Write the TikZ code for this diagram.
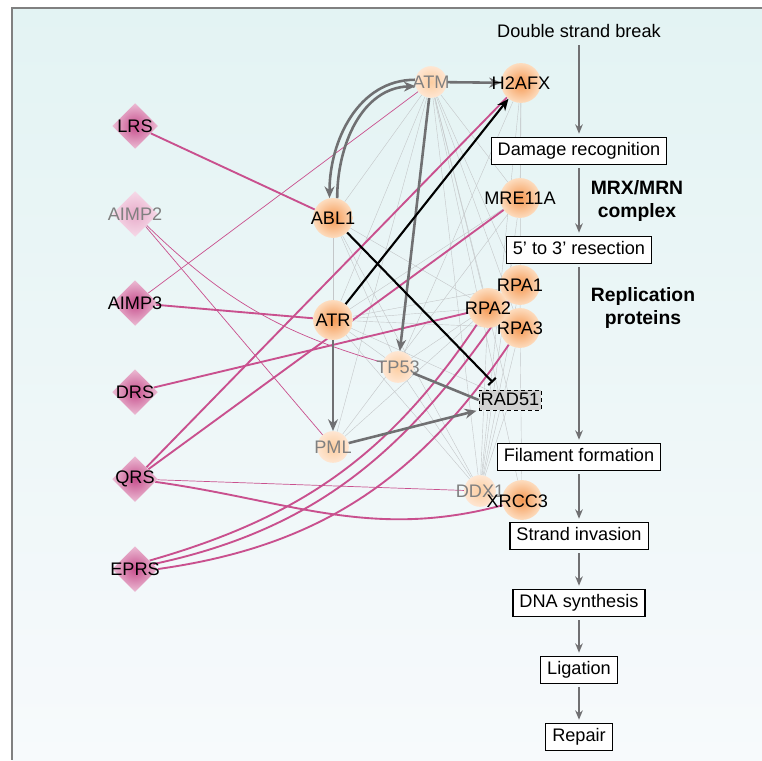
\documentclass[tikz,border=0pt]{standalone}
\usepackage{fontspec}
\setmainfont{Liberation Sans}
\usetikzlibrary{arrows.meta,shapes.geometric}
\definecolor{bgtop}{RGB}{227,243,243}
\definecolor{bgbot}{RGB}{247,250,252}
\definecolor{geneorange}{RGB}{245,152,82}
\definecolor{genepale}{RGB}{253,220,190}
\definecolor{lightorange}{RGB}{252,205,160}
\definecolor{lightpale}{RGB}{254,230,210}
\definecolor{synthdark}{RGB}{198,78,140}
\definecolor{synthpale}{RGB}{236,188,212}
\definecolor{aimplight}{RGB}{232,172,202}
\definecolor{aimppale}{RGB}{246,218,232}
\definecolor{edgepink}{RGB}{201,80,142}
\definecolor{faintgray}{RGB}{196,199,201}
\definecolor{netgray}{RGB}{112,112,114}
\definecolor{labelgray}{RGB}{128,128,128}
\pgfdeclarelayer{back}
\pgfdeclarelayer{links}
\pgfsetlayers{back,links,main}

\begin{document}
\begin{tikzpicture}[x=0.03cm, y=-0.03cm,
  gtext/.style={font=\fontsize{15.5}{18}\selectfont},
  boldlab/.style={font=\fontsize{16.5}{19}\selectfont\bfseries, align=center},
  gene/.style={circle, minimum size=34pt, inner sep=0pt, shading=radial,
    inner color=geneorange, outer color=genepale},
  lgene/.style={circle, minimum size=27pt, inner sep=0pt, shading=radial,
    inner color=lightorange, outer color=lightpale},
  synth/.style={diamond, aspect=1, minimum size=39pt, inner sep=0pt, shading=radial,
    inner color=synthdark, outer color=synthpale},
  stepbox/.style={draw, line width=0.9pt, fill=white, gtext, inner xsep=5.5pt,
    inner ysep=3.6pt, text height=11.8pt, text depth=3.6pt},
  flow/.style={draw=netgray, line width=1.3pt, -{Stealth[length=8pt,width=6.5pt]},
    shorten <=3pt, shorten >=3pt},
  faint/.style={draw=faintgray, line width=0.35pt},
  pinkthick/.style={draw=edgepink, line width=1.6pt},
  pinkthin/.style={draw=edgepink, line width=0.6pt},
  netarrow/.style={draw=netgray, line width=2.2pt, -{Stealth[length=10pt,width=8.5pt]}},
  blackarrow/.style={draw=black, line width=1.8pt, -{Stealth[length=10pt,width=8.5pt]}}]
  \useasboundingbox (0,0) rectangle (762,760);
  \begin{pgfonlayer}{back}
    \fill[top color=bgtop, bottom color=bgbot] (12,8) rectangle (762,760);
    \draw[gray, line width=1pt] (12,760) -- (12,8) -- (762,8);
  \end{pgfonlayer}

  % synthetases
  \node[synth, label={[gtext]center:LRS}] (lrs) at (135,126) {};
  \node[synth, inner color=aimplight, outer color=aimppale,
    label={[gtext, text=labelgray]center:AIMP2}] (aimp2) at (135,214) {};
  \node[synth, label={[gtext]center:AIMP3}] (aimp3) at (135,303) {};
  \node[synth, label={[gtext]center:DRS}] (drs) at (135,392) {};
  \node[synth, label={[gtext]center:QRS}] (qrs) at (135,479) {};
  \node[synth, label={[gtext]center:EPRS}] (eprs) at (135,569) {};

  % repair genes
  \node[lgene, label={[gtext, text=labelgray]center:ATM}] (atm) at (431,82) {};
  \node[gene, label={[gtext]center:H2AFX}] (h2afx) at (521,83) {};
  \node[gene, label={[gtext]center:ABL1}] (abl1) at (333,218) {};
  \node[gene, label={[gtext]center:MRE11A}] (mre) at (520,198) {};
  \node[gene, label={[gtext]center:ATR}] (atr) at (333,320) {};
  \node[gene, label={[gtext]center:RPA1}] (rpa1) at (520,285) {};
  \node[gene, label={[gtext]center:RPA3}] (rpa3) at (520,328) {};
  \node[gene, label={[gtext]center:RPA2}] (rpa2) at (488,308) {};
  \node[lgene, label={[gtext, text=labelgray]center:TP53}] (tp53) at (398,367) {};
  \node[lgene, label={[gtext, text=labelgray]center:PML}] (pml) at (333,447) {};
  \node[draw, dashed, fill=gray!35, gtext, inner xsep=1.5pt, inner ysep=2pt,
    text height=11.5pt, text depth=1.5pt] (rad) at (510,400) {RAD51};
  \node[lgene, label={[gtext, text=labelgray]center:DDX1}] (ddx) at (480,491) {};
  \node[gene, label={[gtext, xshift=-4pt, yshift=-1pt]center:XRCC3}] (xrcc) at (522,500) {};

  % pathway
  \node[gtext] (dsb) at (579,31) {Double strand break};
  \node[stepbox] (recog) at (579,151) {Damage recognition};
  \node[boldlab] (mrx) at (637,201) {MRX/MRN\\complex};
  \node[stepbox] (resect) at (579,250) {5’ to 3’ resection};
  \node[boldlab] (repl) at (643,308) {Replication\\proteins};
  \node[stepbox] (filament) at (579,457) {Filament formation};
  \node[stepbox] (invasion) at (579,536) {Strand invasion};
  \node[stepbox] (synthesis) at (579,603) {DNA synthesis};
  \node[stepbox] (ligation) at (579,670) {Ligation};
  \node[stepbox] (repair) at (579,737) {Repair};
  \draw[flow] (dsb) -- (recog);
  \draw[flow] (recog) -- (resect);
  \draw[flow] (resect) -- (filament);
  \draw[flow] (filament) -- (invasion);
  \draw[flow] (invasion) -- (synthesis);
  \draw[flow] (synthesis) -- (ligation);
  \draw[flow] (ligation) -- (repair);

  \begin{pgfonlayer}{links}
    \foreach \a/\b in {atm/abl1, atm/atr, atm/pml, atm/mre, atm/rpa1, atm/rpa2, atm/rpa3,
        atm/rad, atm/ddx, atm/xrcc, abl1/atr, abl1/tp53, abl1/rpa2, abl1/ddx,
        atr/rpa1, atr/rpa2, atr/rpa3, atr/mre, atr/tp53, atr/rad, atr/ddx,
        pml/mre, pml/rpa2, tp53/rpa1, tp53/ddx, tp53/h2afx, h2afx/mre, h2afx/ddx,
        mre/ddx, rpa1/ddx, rpa2/ddx, rpa3/ddx, rad/ddx, rpa3/xrcc, h2afx/rpa3}
      \draw[faint] (\a) -- (\b);

    \draw[pinkthick] (lrs) -- (abl1);
    \draw[pinkthin] (aimp2) -- (pml);
    \draw[pinkthin] (aimp2) to[bend right=14] (tp53);
    \draw[pinkthin] (aimp3) -- (atm);
    \draw[pinkthick] (aimp3) -- (atr);
    \draw[pinkthick] (drs) -- (rpa2);
    \draw[pinkthick] (qrs) -- (h2afx);
    \draw[pinkthick] (qrs) -- (mre);
    \draw[pinkthin] (qrs) -- (ddx);
    \draw[pinkthick] (qrs) to[out=-8, in=195] (xrcc);
    \draw[pinkthick] (eprs.30) to[out=16, in=236] (rpa2);
    \draw[pinkthick] (eprs.15) to[out=12, in=236] (rpa1);
    \draw[pinkthick] (eprs.0) to[out=8, in=236] (rpa3);

    \draw[netarrow] (atm) -- (h2afx);
    \draw[netarrow] (atm) -- (tp53);
    \draw[netarrow] (atm.172) to[out=180, in=90] (abl1.100);
    \draw[netarrow] (abl1.78) to[out=90, in=182] (atm.195);
    \draw[netarrow] (atr) -- (pml);
    \draw[netarrow, shorten >=2pt] (pml) -- (rad.south west);
    \draw[draw=netgray, line width=2.2pt] (tp53) -- (rad.west);
    \draw[blackarrow] (atr) -- (h2afx);
    \draw[draw=black, line width=1.8pt, -{Bar[width=9pt]}, shorten >=9pt] (abl1) -- (rad);
  \end{pgfonlayer}
\end{tikzpicture}
\end{document}
